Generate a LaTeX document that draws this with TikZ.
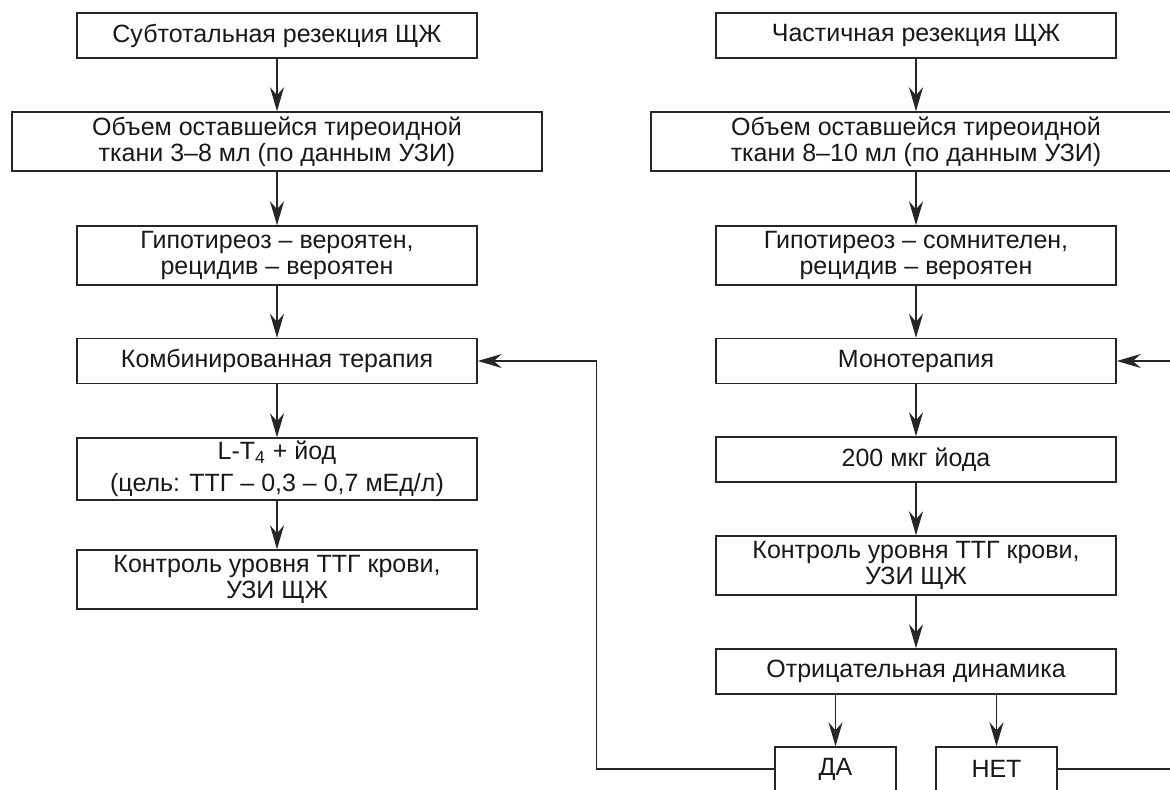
\documentclass[tikz,border=0pt]{standalone}
\usepackage{fontspec}
\setmainfont{Liberation Sans}
\usetikzlibrary{arrows.meta}
\tikzset{
  blok/.style={draw=black!85, line width=0.75pt, text=black!90, align=center, inner sep=1pt,
    minimum width=200pt, minimum height=22.5pt, font=\fontsize{12.5}{13}\selectfont},
  blok2/.style={blok, minimum height=29.5pt},
  shirokij/.style={blok2, minimum width=265pt},
  malyj/.style={blok, minimum width=60.5pt, minimum height=22pt},
  strelka/.style={draw=black!85, line width=0.75pt, -{Stealth[length=12pt,width=7pt,inset=4pt]}},
  liniya/.style={draw=black!85, line width=0.75pt}
}

\begin{document}
\begin{tikzpicture}[x=0.5pt,y=-0.5pt]
\useasboundingbox (0,0) rectangle (1170,789);
\clip (0,0) rectangle (1170,789);
\fill[white] (0,0) rectangle (1170,789);
    \node[blok] (L1) at (277,35.5) {Субтотальная резекция ЩЖ};
    \node[shirokij] (L2) at (277,141.5) {Объем оставшейся тиреоидной\\ткани 3–8 мл (по данным УЗИ)};
    \node[blok2] (L3) at (277,255.5) {Гипотиреоз – вероятен,\\рецидив – вероятен};
    \node[blok] (L4) at (277,361) {Комбинированная терапия};
    \node[blok2, minimum height=31pt] (L5) at (277,469) {L-T\textsubscript{4} + йод\\[3pt](цель: ТТГ – 0,3 – 0,7 мЕд/л)};
    \node[blok2] (L6) at (277,579.5) {Контроль уровня ТТГ крови,\\УЗИ ЩЖ};
    \node[blok] (R1) at (916,35.5) {Частичная резекция ЩЖ};
    \node[shirokij] (R2) at (916,141.5) {Объем оставшейся тиреоидной\\ткани 8–10 мл (по данным УЗИ)};
    \node[blok2] (R3) at (916,255.5) {Гипотиреоз – сомнителен,\\рецидив – вероятен};
    \node[blok] (R4) at (916,361) {Монотерапия};
    \node[blok] (R5) at (916,459.5) {200 мкг йода};
    \node[blok2] (R6) at (916,565.5) {Контроль уровня ТТГ крови,\\УЗИ ЩЖ};
    \node[blok] (R7) at (916,671.5) {Отрицательная динамика};
    \node[malyj] (da) at (835.5,769) {ДА};
    \node[malyj] (net) at (996.5,769) {НЕТ};
    \draw[strelka] (L1) -- (L2);
    \draw[strelka] (L2) -- (L3);
    \draw[strelka] (L3) -- (L4);
    \draw[strelka] (L4) -- (L5);
    \draw[strelka] (L5) -- (L6);
    \draw[strelka] (R1) -- (R2);
    \draw[strelka] (R2) -- (R3);
    \draw[strelka] (R3) -- (R4);
    \draw[strelka] (R4) -- (R5);
    \draw[strelka] (R5) -- (R6);
    \draw[strelka] (R6) -- (R7);
    \draw[strelka] (da.north |- R7.south) -- (da.north);
    \draw[strelka] (net.north |- R7.south) -- (net.north);
    \draw[strelka] (da.west) -- ++(-178,0) |- (L4.east);
    \draw[strelka] (net.east) -- ++(128,0) |- (R4.east);
\end{tikzpicture}
\end{document}
